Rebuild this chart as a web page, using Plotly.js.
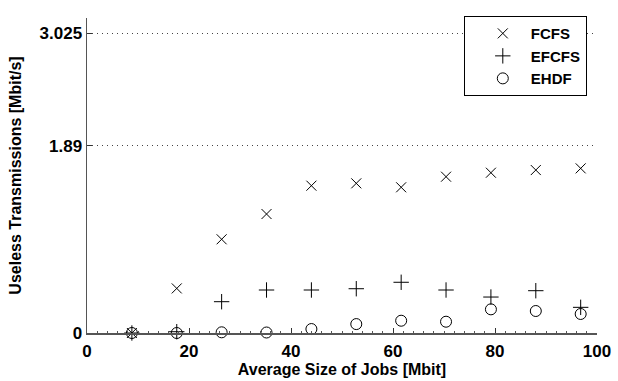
<!DOCTYPE html>
<html>
<head>
<meta charset="utf-8">
<script src="https://cdn.plot.ly/plotly-3.0.1.min.js"></script>
<style>html,body{margin:0;padding:0;background:#fff}#chart{width:618px;height:381px}</style>
</head>
<body>
<div id="chart"></div>
<script>
var jobSize = [8.8, 17.6, 26.4, 35.2, 44, 52.8, 61.6, 70.4, 79.2, 88, 96.8];
var fcfs  = [0, 0.45, 0.946, 1.201, 1.487, 1.511, 1.471, 1.578, 1.618, 1.645, 1.662];
var efcfs = [0, 0.013, 0.316, 0.434, 0.434, 0.447, 0.512, 0.434, 0.363, 0.427, 0.259];
var ehdf  = [0, 0, 0.007, 0.005, 0.04, 0.09, 0.124, 0.114, 0.239, 0.222, 0.192];
var xTicks = [0, 20, 40, 60, 80, 100];
var yTicks = [0, 1.89, 3.025];
var yTickText = ["0", "1.89", "3.025"];

var fontFam = "Liberation Sans, Arial, Helvetica, sans-serif";
var traces = [
  {x: jobSize, y: fcfs, name: "FCFS", mode: "markers", type: "scatter", cliponaxis: false,
   marker: {symbol: "x-thin-open", size: 10, color: "black", line: {color: "black", width: 1}}},
  {x: jobSize, y: efcfs, name: "EFCFS", mode: "markers", type: "scatter", cliponaxis: false,
   marker: {symbol: "cross-thin-open", size: 11, color: "black", line: {color: "black", width: 1}}},
  {x: jobSize, y: ehdf, name: "EHDF", mode: "markers", type: "scatter", cliponaxis: false,
   marker: {symbol: "circle-open", size: 11, color: "black", line: {color: "black", width: 1}}}
];
var layout = {
  width: 618, height: 381,
  margin: {l: 87, r: 21, t: 18, b: 48},
  paper_bgcolor: "white", plot_bgcolor: "white",
  font: {family: fontFam, size: 16, color: "black", weight: "bold"},
  showlegend: true,
  legend: {x: 0.98, xanchor: "right", y: 1.006, yanchor: "top",
           bgcolor: "white", bordercolor: "black", borderwidth: 1,
           font: {family: fontFam, size: 15, color: "black", weight: "bold"},
           itemwidth: 46, indentation: 10, tracegroupgap: 0},
  xaxis: {range: [0, 100], tickvals: xTicks, ticks: "inside", ticklen: 5, tickcolor: "#333",
          showline: true, linecolor: "#555", linewidth: 1.5, showgrid: false, zeroline: false,
          minor: {dtick: 2, ticks: "inside", ticklen: 2, tickcolor: "#555", showgrid: false},
          tickfont: {size: 17}, ticklabelstandoff: 2,
          title: {text: "Average Size of Jobs [Mbit]", font: {size: 16}, standoff: 3}},
  yaxis: {range: [0, 3.18], tickvals: yTicks, ticktext: yTickText, ticks: "inside", ticklen: 5,
          tickcolor: "#333", showline: true, linecolor: "#555", linewidth: 1.5,
          showgrid: true, gridcolor: "#444", griddash: "1px,4px", gridwidth: 1, zeroline: false,
          tickfont: {size: 17},
          title: {text: "Useless Transmissions [Mbit/s]", font: {size: 16}, standoff: 14}}
};
Plotly.newPlot("chart", traces, layout, {staticPlot: true, displayModeBar: false});
</script>
</body>
</html>
